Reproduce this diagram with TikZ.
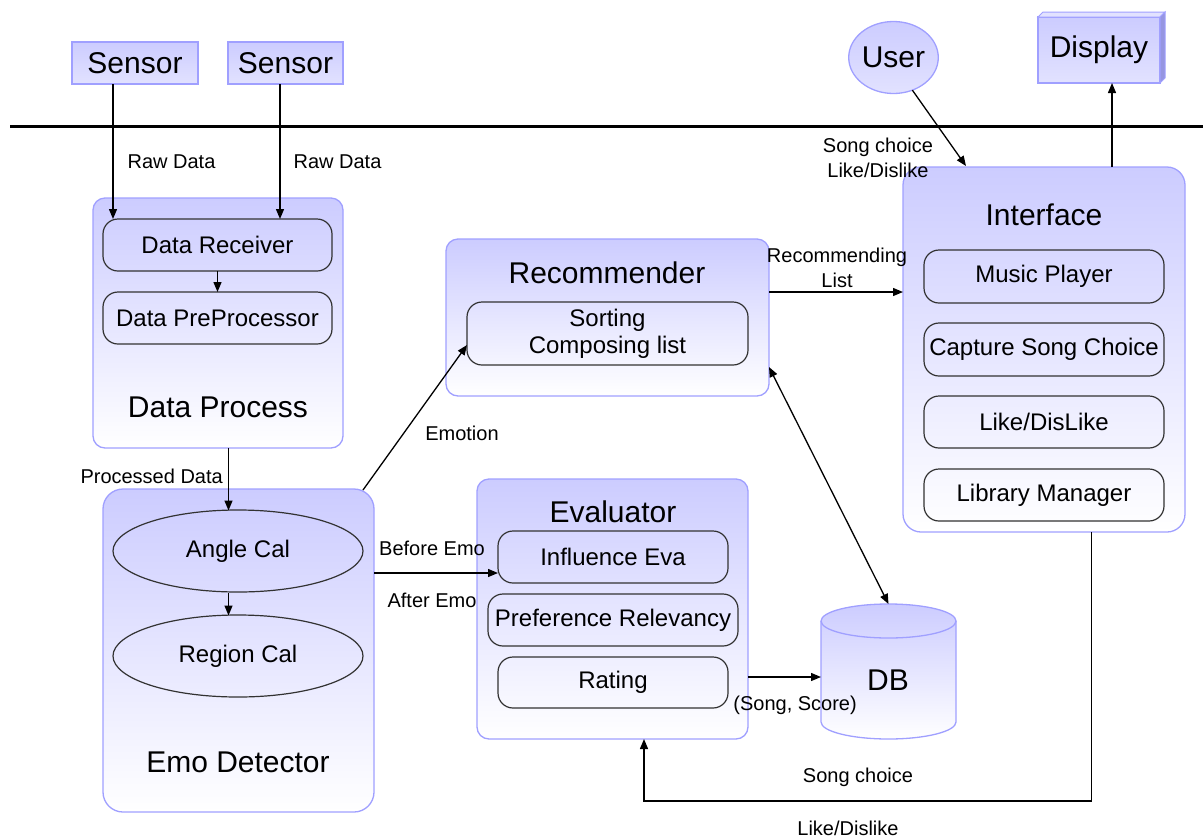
\documentclass[tikz,border=0pt]{standalone}
\usepackage{fontspec}
\setmainfont{Liberation Sans}
\usetikzlibrary{arrows.meta,shapes.geometric,calc}
\definecolor{lav}{RGB}{204,204,255}
\definecolor{lavlt}{RGB}{226,226,255}
\definecolor{bord}{RGB}{160,160,255}
\definecolor{inb}{RGB}{50,50,50}
\definecolor{sidec}{RGB}{150,150,225}
\newcommand\fsz[2]{\fontsize{#1}{#2}\selectfont}
\begin{document}
\begin{tikzpicture}[x=1pt,y=-1pt,
  sz/.style 2 args={minimum width=#1, minimum height=#2, inner sep=0pt, outer sep=0pt},
  bigbox/.style={draw=bord, line width=1.3pt, rounded corners=12pt, top color=lav, bottom color=white},
  subbox/.style={draw=inb, line width=1.2pt, rounded corners=15pt, align=center, font=\fsz{24}{27}},
  subell/.style={draw=inb, line width=1.2pt, ellipse, font=\fsz{24}{27}},
  ttl/.style={font=\fsz{30}{36}, inner sep=0pt},
  lbl/.style={font=\fsz{20}{25}, align=center, inner sep=0pt},
  ext/.style={draw=bord, line width=1.3pt, top color=lav, bottom color=lavlt, font=\fsz{30}{36}},
  arr/.style={line width=1.3pt, -{Triangle[length=10pt,width=8pt]}},
  darr/.style={line width=1.3pt, {Triangle[length=10pt,width=8pt]}-{Triangle[length=10pt,width=8pt]}},
  plain/.style={line width=1.3pt}
]
\useasboundingbox (0,0) rectangle (1203,839);
\fill[white] (0,0) rectangle (1203,839);

% separator
\draw[line width=3pt] (10,126) -- (1203,126);

% external entities
\node[ext, sz={126}{42}] (s1) at (135,63) {Sensor};
\node[ext, sz={115}{42}] (s2) at (285.5,63) {Sensor};
\node[ext, sz={122}{66}] (disp) at (1099,50) {Display};
\fill[lavlt, draw=bord, line width=1pt] (1038,17) -- (1043,12) -- (1165,12) -- (1160,17) -- cycle;
\fill[sidec, draw=bord, line width=1pt] (1160,17) -- (1165,12) -- (1165,78) -- (1160,83) -- cycle;
\node[ellipse, draw=bord, line width=1.3pt, top color=lav, bottom color=lavlt, sz={83}{72}, font=\fsz{30}{36}] (user) at (893.5,57.5) {User};

% Data Process
\node[bigbox, sz={250}{250}] (dp) at (218,323) {};
\node[subbox, sz={229}{52}] (recv) at (217.5,245) {Data Receiver};
\node[subbox, sz={229}{52}] (pre) at (217.5,318) {Data PreProcessor};
\node[ttl] (dpt) at (218,407) {Data Process};

% Emo Detector
\node[bigbox, rounded corners=20pt, sz={271}{323}] (emo) at (238.5,650.5) {};
\node[subell, sz={250}{82}] (angle) at (238,551) {Angle Cal};
\node[subell, sz={250}{82}] (region) at (238,656) {Region Cal};
\node[ttl] (emot) at (238,762) {Emo Detector};

% Recommender
\node[bigbox, sz={323}{157}] (rec) at (607.5,317.5) {};
\node[ttl] (rect) at (607,273) {Recommender};
\node[subbox, sz={281}{63}] (sort) at (607.5,333.5) {Sorting\\Composing list};

% Interface
\node[bigbox, rounded corners=18pt, sz={282}{365}] (intf) at (1044,349.5) {};
\node[ttl] (intft) at (1044,215) {Interface};
\node[subbox, sz={240}{53}] (music) at (1044,276.5) {Music Player};
\node[subbox, sz={240}{53}] (capt) at (1044,349.5) {Capture Song Choice};
\node[subbox, sz={240}{52}] (like) at (1044,422) {Like/DisLike};
\node[subbox, sz={240}{52}] (lib) at (1044,495) {Library Manager};

% Evaluator
\node[bigbox, sz={271}{260}] (eval) at (612.5,609) {};
\node[ttl] (evalt) at (613,512) {Evaluator};
\node[subbox, sz={230}{52}] (infl) at (613,557) {Influence Eva};
\node[subbox, sz={250}{52}] (pref) at (613,620) {Preference Relevancy};
\node[subbox, sz={230}{51}] (rate) at (613,682.5) {Rating};

% DB cylinder
\shade[top color=lav, bottom color=white, draw=bord, line width=1.3pt]
  (821,621) -- (821,722) arc[start angle=180, end angle=0, x radius=67.5, y radius=17]
  -- (956,621) arc[start angle=0, end angle=-180, x radius=67.5, y radius=17] -- cycle;
\draw[bord, line width=1.3pt] (821,621) arc[start angle=180, end angle=0, x radius=67.5, y radius=17];
\node[ttl] (db) at (888,680) {DB};
\coordinate (dbtop) at (888.5,604);
\coordinate (dbleft) at (821,677);

% helper coordinates
\coordinate (x1) at (113,0);
\coordinate (x2) at (280,0);
\coordinate (x3) at (228.5,0);
\coordinate (y1) at (0,573);
\coordinate (y2) at (0,292);
\coordinate (y3) at (0,367);
\coordinate (y4) at (0,677);
\coordinate (x4) at (1112,0);
\coordinate (fbr) at (1091.5,801);
\coordinate (fbl) at (644,801);

% connectors
\draw[arr] (s1.south -| x1) -- (recv.north -| x1);
\draw[arr] (s2.south -| x2) -- (recv.north -| x2);
\draw[arr] (recv.south) -- (pre.north);
\draw[arr] (dp.south -| x3) -- ($(angle.north -| x3)+(0,0.5)$);
\draw[arr] ($(angle.south -| x3)+(0,0.5)$) -- ($(region.north -| x3)+(0,0.5)$);
\draw[arr] ($(emo.north east)+(-11,1)$) -- ($(sort.west)+(0,11.5)$);
\draw[arr] (emo.east |- y1) -- (infl.west |- y1);
\draw[arr] (rec.east |- y2) -- (intf.west |- y2);
\draw[darr] (rec.east |- y3) -- (dbtop);
\draw[arr] (eval.east |- y4) -- (dbleft);
\draw[arr] (user.-60) -- ($(intf.north west)+(63,-1)$);
\draw[arr] (intf.north -| x4) -- (disp.south -| x4);
\draw[arr] (intf.south -| fbr) -- (fbr) -- (fbl) -- (eval.south -| fbl);

% labels
\node[lbl] (l1) at (171.5,162) {Raw Data};
\node[lbl] (l2) at (337.5,162) {Raw Data};
\node[lbl, anchor=east] (l3) at (223,476) {Processed Data};
\node[lbl] (l4) at (462,433) {Emotion};
\node[lbl] (l5) at (432,548) {Before Emo};
\node[lbl] (l6) at (432,600) {After Emo};
\node[lbl] (l7) at (837,267.5) {Recommending\\List};
\node[lbl] (l8) at (878,157.5) {Song choice\\Like/Dislike};
\node[lbl, anchor=east] (l9) at (857,705) {(Song, Score)};
\node[lbl] (l10) at (858,777) {Song choice};
\node[lbl] (l11) at (848,828) {Like/Dislike};
\end{tikzpicture}
\end{document}
